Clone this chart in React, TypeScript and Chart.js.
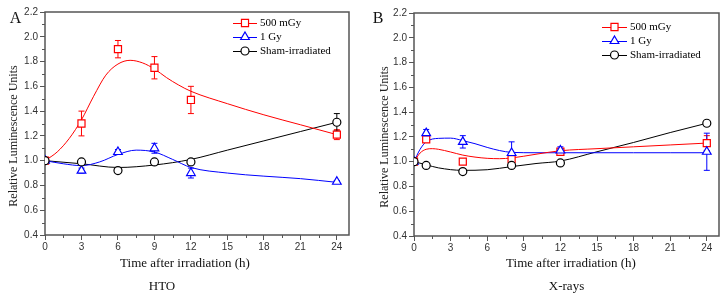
import React, { useEffect, useRef } from 'react';
import { Chart, registerables } from 'chart.js';

Chart.register(...registerables);

// ---------- shared axis data ----------
const xTickValues = [0, 3, 6, 9, 12, 15, 18, 21, 24];
const xMinorValues = [1.5, 4.5, 7.5, 10.5, 13.5, 16.5, 19.5, 22.5];
const yTickValues = [0.4, 0.6, 0.8, 1.0, 1.2, 1.4, 1.6, 1.8, 2.0, 2.2];
const yMinorValues = [0.5, 0.7, 0.9, 1.1, 1.3, 1.5, 1.7, 1.9, 2.1];
const seriesNames = ['500 mGy', '1 Gy', 'Sham-irradiated'];
const xTitle = 'Time after irradiation (h)';
const yTitle = 'Relative Luminescence Units';

// ---------- Panel A: HTO ----------
const htoTimes = [0, 3, 6, 9, 12, 24];
const hto500 = [1.0, 1.3, 1.9, 1.75, 1.49, 1.21];
const hto500Err = [0, 0.1, 0.07, 0.09, 0.11, 0.04];
const hto1Gy = [1.0, 0.92, 1.07, 1.1, 0.9, 0.83];
const hto1GyErr = [0, 0.02, 0.02, 0.04, 0.04, 0.01];
const htoSham = [1.0, 0.99, 0.92, 0.99, 0.99, 1.31];
const htoShamErr = [0, 0.01, 0.01, 0.01, 0.01, 0.07];

const hto500FitT = [0, 1, 2, 3, 4, 5, 6, 7, 8, 9, 10, 11, 12, 15, 18, 21, 24];
const hto500Fit = [1.0, 1.07, 1.18, 1.33, 1.52, 1.69, 1.78, 1.81, 1.79, 1.74, 1.67, 1.61, 1.56, 1.46, 1.37, 1.29, 1.21];
const hto1GyFitT = [0, 1.5, 3, 4.5, 6, 7.5, 9, 10.5, 12, 15, 18, 21, 24];
const hto1GyFit = [1.0, 0.975, 0.96, 0.99, 1.05, 1.085, 1.07, 1.01, 0.945, 0.9, 0.875, 0.855, 0.825];
const htoShamFitT = [0, 3, 6, 9, 12, 15, 18, 21, 24];
const htoShamFit = [1.0, 0.975, 0.945, 0.965, 1.01, 1.085, 1.16, 1.235, 1.31];

// ---------- Panel B: X-rays ----------
const xrTimes = [0, 1, 4, 8, 12, 24];
const xr500 = [1.0, 1.18, 1.0, 1.02, 1.08, 1.15];
const xr500Err = [0, 0.02, 0.02, 0.03, 0.02, 0.06];
const xr1Gy = [1.0, 1.23, 1.16, 1.07, 1.09, 1.08];
const xr1GyErr = [0, 0.03, 0.05, 0.09, 0.03, 0.15];
const xrSham = [1.0, 0.97, 0.92, 0.97, 0.99, 1.31];
const xrShamErr = [0, 0.01, 0.01, 0.01, 0.01, 0.01];

const xr500FitT = [0, 0.5, 1, 1.5, 2, 3, 4, 5, 6, 7, 8, 10, 12, 15, 18, 21, 24];
const xr500Fit = [1.0, 1.07, 1.1, 1.105, 1.1, 1.078, 1.053, 1.037, 1.027, 1.024, 1.03, 1.06, 1.088, 1.105, 1.12, 1.135, 1.15];
const xr1GyFitT = [0, 0.5, 1, 2, 3, 4, 5, 6, 7, 8, 10, 12, 15, 18, 21, 24];
const xr1GyFit = [1.0, 1.1, 1.16, 1.188, 1.19, 1.17, 1.145, 1.115, 1.09, 1.075, 1.072, 1.072, 1.072, 1.072, 1.072, 1.072];
const xrShamFitT = [0, 1, 2, 4, 6, 8, 10, 12, 15, 18, 21, 24];
const xrShamFit = [1.0, 0.975, 0.95, 0.93, 0.935, 0.96, 0.985, 1.005, 1.08, 1.155, 1.235, 1.31];

// ---------- styles ----------
const colors = ['#ff0000', '#0000ff', '#000000'];
const pointStyles = ['rect', 'triangle', 'circle'];
const radii = [5, 5, 4];

const serif = '"Liberation Serif", "Times New Roman", serif';
const sans = '"Liberation Sans", Arial, sans-serif';

type PanelSpec = {
  key: string;
  left: number;
  width: number;
  letter: string;
  sub: string;
  padTop: number;
  padRight: number;
  yAxisWidth: number;
  xAxisHeight: number;
  legendX1: number;
  legendX2: number;
  legendTextX: number;
  legendYs: number[];
  yTitleX: number;
  yTitleY: number;
  xTitleX: number;
  xTitleY: number;
  subX: number;
  subY: number;
  letterX: number;
  letterY: number;
  series: { times: number[]; values: number[]; errors: number[]; fitT: number[]; fit: number[] }[];
};

const panels: PanelSpec[] = [
  {
    key: 'A', left: 0, width: 363, letter: 'A', sub: 'HTO',
    padTop: 12, padRight: 14, yAxisWidth: 45, xAxisHeight: 67,
    legendX1: 233, legendX2: 257, legendTextX: 260, legendYs: [23, 37, 51],
    yTitleX: 14, yTitleY: 136, xTitleX: 185, xTitleY: 264, subX: 162, subY: 287,
    letterX: 15.5, letterY: 19,
    series: [
      { times: htoTimes, values: hto500, errors: hto500Err, fitT: hto500FitT, fit: hto500Fit },
      { times: htoTimes, values: hto1Gy, errors: hto1GyErr, fitT: hto1GyFitT, fit: hto1GyFit },
      { times: htoTimes, values: htoSham, errors: htoShamErr, fitT: htoShamFitT, fit: htoShamFit },
    ],
  },
  {
    key: 'B', left: 363, width: 364, letter: 'B', sub: 'X-rays',
    padTop: 13, padRight: 8, yAxisWidth: 51, xAxisHeight: 66,
    legendX1: 239, legendX2: 264, legendTextX: 267, legendYs: [27, 41, 55],
    yTitleX: 22, yTitleY: 137, xTitleX: 208, xTitleY: 264, subX: 203.5, subY: 287,
    letterX: 15, letterY: 18.5,
    series: [
      { times: xrTimes, values: xr500, errors: xr500Err, fitT: xr500FitT, fit: xr500Fit },
      { times: xrTimes, values: xr1Gy, errors: xr1GyErr, fitT: xr1GyFitT, fit: xr1GyFit },
      { times: xrTimes, values: xrSham, errors: xrShamErr, fitT: xrShamFitT, fit: xrShamFit },
    ],
  },
];

function drawMarker(ctx: CanvasRenderingContext2D, style: string, r: number, x: number, y: number, color: string) {
  ctx.save();
  ctx.beginPath();
  if (style === 'rect') {
    const s = r * Math.SQRT1_2;
    ctx.rect(x - s, y - s, 2 * s, 2 * s);
  } else if (style === 'triangle') {
    let rad = 0;
    ctx.moveTo(x + Math.sin(rad) * r, y - Math.cos(rad) * r);
    rad += (2 * Math.PI) / 3;
    ctx.lineTo(x + Math.sin(rad) * r, y - Math.cos(rad) * r);
    rad += (2 * Math.PI) / 3;
    ctx.lineTo(x + Math.sin(rad) * r, y - Math.cos(rad) * r);
    ctx.closePath();
  } else {
    ctx.arc(x, y, r, 0, Math.PI * 2);
  }
  ctx.fillStyle = '#ffffff';
  ctx.fill();
  ctx.lineWidth = 1.2;
  ctx.strokeStyle = color;
  ctx.stroke();
  ctx.restore();
}

function makePlugins(p: PanelSpec) {
  const under = {
    id: 'underLayer' + p.key,
    beforeDatasetsDraw(chart: any) {
      const { ctx, chartArea, scales } = chart;
      const xs = scales.x;
      const ys = scales.y;
      ctx.save();
      // frame
      ctx.strokeStyle = '#555555';
      ctx.lineWidth = 1.5;
      ctx.strokeRect(chartArea.left, chartArea.top, chartArea.right - chartArea.left, chartArea.bottom - chartArea.top);
      // minor ticks
      ctx.lineWidth = 1;
      ctx.beginPath();
      xMinorValues.forEach((v) => {
        const px = Math.round(xs.getPixelForValue(v)) + 0.5;
        ctx.moveTo(px, chartArea.bottom);
        ctx.lineTo(px, chartArea.bottom + 3);
      });
      yMinorValues.forEach((v) => {
        const py = Math.round(ys.getPixelForValue(v)) + 0.5;
        ctx.moveTo(chartArea.left, py);
        ctx.lineTo(chartArea.left - 3, py);
      });
      ctx.stroke();
      // error bars
      chart.data.datasets.forEach((ds: any) => {
        if (!ds.errors) return;
        ctx.strokeStyle = ds.borderColor;
        ctx.lineWidth = 1;
        ds.data.forEach((pt: any, i: number) => {
          const e = ds.errors[i];
          if (!e) return;
          const px = xs.getPixelForValue(pt.x);
          const yTop = ys.getPixelForValue(pt.y + e);
          const yBot = ys.getPixelForValue(pt.y - e);
          ctx.beginPath();
          ctx.moveTo(px, yTop);
          ctx.lineTo(px, yBot);
          ctx.moveTo(px - 3, yTop);
          ctx.lineTo(px + 3, yTop);
          ctx.moveTo(px - 3, yBot);
          ctx.lineTo(px + 3, yBot);
          ctx.stroke();
        });
      });
      ctx.restore();
    },
  };
  const texts = {
    id: 'textLayer' + p.key,
    afterDraw(chart: any) {
      const { ctx } = chart;
      ctx.save();
      ctx.fillStyle = '#000000';
      // y title
      ctx.save();
      ctx.translate(p.yTitleX, p.yTitleY);
      ctx.rotate(-Math.PI / 2);
      ctx.font = `12px ${serif}`;
      ctx.textAlign = 'center';
      ctx.textBaseline = 'middle';
      ctx.fillStyle = '#222222';
      ctx.fillText(yTitle, 0, 0);
      ctx.restore();
      // x title
      ctx.font = `13px ${serif}`;
      ctx.textAlign = 'center';
      ctx.textBaseline = 'middle';
      ctx.fillStyle = '#111111';
      ctx.fillText(xTitle, p.xTitleX, p.xTitleY);
      // subtitle
      ctx.font = `13px ${serif}`;
      ctx.fillText(p.sub, p.subX, p.subY);
      // panel letter
      ctx.font = `16px ${serif}`;
      ctx.fillText(p.letter, p.letterX, p.letterY);
      // legend
      ctx.font = `11px ${serif}`;
      ctx.textAlign = 'left';
      seriesNames.forEach((name, i) => {
        const y = p.legendYs[i];
        ctx.strokeStyle = colors[i];
        ctx.lineWidth = 1;
        ctx.beginPath();
        ctx.moveTo(p.legendX1, y + 0.5);
        ctx.lineTo(p.legendX2, y + 0.5);
        ctx.stroke();
        drawMarker(ctx, pointStyles[i], radii[i], (p.legendX1 + p.legendX2) / 2, y, colors[i]);
        ctx.fillStyle = '#000000';
        ctx.fillText(name, p.legendTextX, y + 0.5);
      });
      ctx.restore();
    },
  };
  return [under, texts];
}

function buildDatasets(p: PanelSpec) {
  const markers = p.series.map((s, i) => ({
    label: seriesNames[i],
    data: s.times.map((t, k) => ({ x: t, y: s.values[k] })),
    errors: s.errors,
    showLine: false,
    pointStyle: pointStyles[i],
    pointRadius: radii[i],
    pointHoverRadius: radii[i],
    pointBorderWidth: 1.2,
    pointBorderColor: colors[i],
    pointBackgroundColor: '#ffffff',
    borderColor: colors[i],
    backgroundColor: '#ffffff',
    order: 2 - i,
  }));
  const fits = p.series.map((s, i) => ({
    label: seriesNames[i] + ' fit',
    data: s.fitT.map((t, k) => ({ x: t, y: s.fit[k] })),
    showLine: true,
    pointRadius: 0,
    pointHoverRadius: 0,
    borderColor: colors[i],
    backgroundColor: colors[i],
    borderWidth: 1,
    cubicInterpolationMode: 'monotone',
    fill: false,
    order: 10 + i,
  }));
  return [...markers, ...fits];
}

function Panel({ p }: { p: PanelSpec }) {
  const ref = useRef<HTMLCanvasElement | null>(null);
  useEffect(() => {
    if (!ref.current) return;
    const chart = new Chart(ref.current, {
      type: 'scatter',
      data: { datasets: buildDatasets(p) as any },
      options: {
        animation: false,
        responsive: false,
        devicePixelRatio: 1,
        layout: { padding: { top: p.padTop, right: p.padRight, left: 0, bottom: 0 } },
        plugins: {
          legend: { display: false },
          tooltip: { enabled: false },
          title: { display: false },
        },
        scales: {
          x: {
            type: 'linear',
            min: 0,
            max: 25,
            afterBuildTicks: (scale: any) => {
              scale.ticks = xTickValues.map((v) => ({ value: v }));
            },
            afterFit: (scale: any) => {
              scale.height = p.xAxisHeight;
            },
            grid: { display: true, drawOnChartArea: false, drawTicks: true, tickLength: 5, color: '#555555', lineWidth: 1 },
            border: { display: false },
            ticks: { font: { family: sans, size: 10 }, color: '#333333', padding: 1, maxRotation: 0, autoSkip: false },
          },
          y: {
            type: 'linear',
            min: 0.4,
            max: 2.2,
            afterBuildTicks: (scale: any) => {
              scale.ticks = yTickValues.map((v) => ({ value: v }));
            },
            afterFit: (scale: any) => {
              scale.width = p.yAxisWidth;
            },
            grid: { display: true, drawOnChartArea: false, drawTicks: true, tickLength: 5, color: '#555555', lineWidth: 1 },
            border: { display: false },
            ticks: {
              font: { family: sans, size: 10 },
              color: '#333333',
              padding: 2,
              autoSkip: false,
              callback: (v: any) => Number(v).toFixed(1),
            },
          },
        },
      } as any,
      plugins: makePlugins(p) as any,
    });
    return () => chart.destroy();
  }, [p]);
  return (
    <canvas
      ref={ref}
      width={p.width}
      height={302}
      style={{ position: 'absolute', left: p.left, top: 0, width: p.width, height: 302, display: 'block' }}
    />
  );
}

export default function App() {
  return (
    <div style={{ position: 'fixed', left: 0, top: 0, width: 727, height: 302, background: '#ffffff', overflow: 'hidden' }}>
      {panels.map((p) => (
        <Panel key={p.key} p={p} />
      ))}
    </div>
  );
}
